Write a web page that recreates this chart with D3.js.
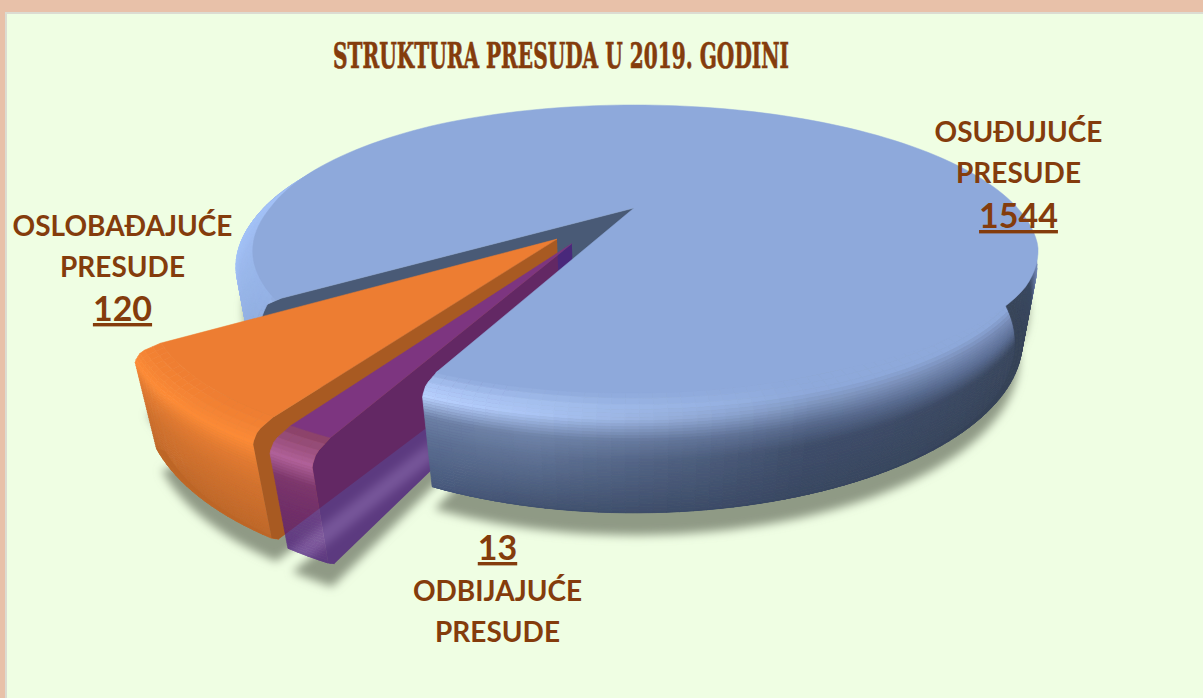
<!DOCTYPE html>
<html>
<head>
<meta charset="utf-8">
<script src="https://cdn.jsdelivr.net/npm/d3@7"></script>
<style>
body { margin: 0; background: #e8c1a9; }
text { font-family: Lato, sans-serif; font-weight: 700; fill: #843c0c; text-anchor: middle; }
</style>
</head>
<body>
<div id="chart"></div>
<script>
var categories = ["OSUĐUJUĆE PRESUDE", "ODBIJAJUĆE PRESUDE", "OSLOBAĐAJUĆE PRESUDE"];
var values = [1544, 13, 120];
var titleText = "STRUKTURA PRESUDA U 2019. GODINI";

var width = 1203, height = 698;
var rad = Math.PI / 180;

// camera fitted to the picture: pie plane has unit radius, z runs down the wall
var cx = 634, cy = 208, scaleX = 379, scaleY = 136, scaleZ = 87, tilt = 0.32, zPersp = 0.04;
var rightStretch = 1.012;
var explode = 0.285;
var frontGap = 2.6;       // the thin slice is drawn a bit wider than its share, like the original
var thinDirShift = 6;

function project(x, y, z) {
    var d = 1 - tilt * y + zPersp * z;
    return [cx + scaleX * (x > 0 ? x * rightStretch : x) / d, cy + (scaleY * y + scaleZ * z) / d];
}

var svg = d3.select("#chart").append("svg")
    .attr("width", width)
    .attr("height", height)
    .style("display", "block");

var defs = svg.append("defs");
defs.append("filter").attr("id", "blur")
    .attr("x", "-10%").attr("y", "-10%").attr("width", "120%").attr("height", "120%")
    .append("feGaussianBlur").attr("stdDeviation", 5);
defs.append("filter").attr("id", "soft")
    .attr("x", "-5%").attr("y", "-5%").attr("width", "110%").attr("height", "110%")
    .append("feGaussianBlur").attr("stdDeviation", 0.6);

svg.append("rect").attr("x", 5).attr("y", 12).attr("width", width).attr("height", height)
    .attr("fill", "#dcdcd2");
svg.append("rect").attr("x", 7).attr("y", 14).attr("width", width).attr("height", height)
    .attr("fill", "#effee3");

var pie = d3.pie().sort(null)
    .startAngle(234.5 * rad)
    .endAngle((234.5 + 360) * rad);

// theta: 0 = right, 90 = towards the viewer, in degrees
var slices = pie(values).map(function(d, i) {
    return { a0: d.startAngle / rad - 90, a1: d.endAngle / rad - 90, k: i == 0 ? 1 : 0.985 };
});
slices[0].a1 -= frontGap;
slices[1].a0 -= frontGap;
slices.forEach(function(s, i) {
    var mid = ((s.a0 + s.a1) / 2 + (i == 1 ? thinDirShift : 0)) * rad;
    s.ox = i == 0 ? 0 : explode * Math.cos(mid);
    s.oy = i == 0 ? 0 : explode * Math.sin(mid);
});

var line = d3.line();

function point(s, theta, r, z) {
    return project(s.ox + s.k * r * Math.cos(theta * rad), s.oy + s.k * r * Math.sin(theta * rad), z);
}

function arcPoints(s, a0, a1, rFn, z) {
    var n = Math.max(2, Math.ceil(Math.abs(a1 - a0) / 2));
    return d3.range(n + 1).map(function(i) {
        var a = a0 + (a1 - a0) * i / n;
        return point(s, a, rFn(a), z);
    });
}

// wall profile, t goes from top face edge (0) to the foot (1)
var rOf = d3.scaleLinear().domain([0, 0.06, 0.14, 0.95, 1]).range([0.945, 0.985, 1, 1, 0.985]);
var zOf = d3.scaleLinear().domain([0, 0.06, 0.14, 1]).range([0, 0.03, 0.1, 1]);
var rows = d3.range(0, 1.001, 1 / 40);
var angleStep = 1.5;

function wallMesh(g, s, a0, a1, colorAt) {
    var n = Math.max(2, Math.ceil(Math.abs(a1 - a0) / angleStep));
    var thetas = d3.range(n + 1).map(function(i) { return a0 + (a1 - a0) * i / n; });
    for (var j = 0; j < rows.length - 1; j++) {
        for (var i = 0; i < n; i++) {
            var t0 = rows[j], t1 = rows[j + 1], c = colorAt(thetas[i], (t0 + t1) / 2);
            g.append("path")
                .attr("d", line([
                    point(s, thetas[i], rOf(t0), zOf(t0)),
                    point(s, thetas[i + 1], rOf(t0), zOf(t0)),
                    point(s, thetas[i + 1], rOf(t1), zOf(t1)),
                    point(s, thetas[i], rOf(t1), zOf(t1))
                ]) + "Z")
                .attr("fill", c)
                .attr("stroke", c)
                .attr("stroke-width", 0.7);
        }
    }
}

// flat cut face, its outer side follows the wall profile
function cutWall(g, s, theta, color) {
    var pts = [point(s, theta, 0, 0)]
        .concat(rows.map(function(t) { return point(s, theta, rOf(t), zOf(t)); }))
        .concat([point(s, theta, 0, 1)]);
    g.append("path").attr("d", line(pts) + "Z").attr("fill", color);
}

function topFace(g, s, color, rFn) {
    var pts = [point(s, 0, 0, 0)].concat(arcPoints(s, s.a0, s.a1, rFn, 0));
    g.append("path").attr("d", line(pts) + "Z")
        .attr("fill", color)
        .attr("stroke", color)
        .attr("stroke-width", 0.5);
}

function shadeBy(stops, colorsByRow) {
    // one colour ramp along theta per row of the wall, blended along t
    var tStops = [0, 0.06, 0.14, 0.32, 0.5, 1];
    var ramps = colorsByRow.map(function(c) {
        return d3.scaleLinear().domain(stops).range(c).interpolate(d3.interpolateRgb).clamp(true);
    });
    return function(theta, t) {
        var k = d3.bisectRight(tStops, t) - 1;
        k = Math.min(k, tStops.length - 2);
        var f = (t - tStops[k]) / (tStops[k + 1] - tStops[k]);
        return d3.interpolateRgb(ramps[k](theta), ramps[k + 1](theta))(f);
    };
}

var blueShade = shadeBy([-30, 0, 40, 70, 100, 114, 150, 215], [
    ["#8ea9db", "#8ea9db", "#8ea9db", "#8ea9db", "#8ea9db", "#8ea9db", "#8ea9db", "#8ea9db"],
    ["#8ea9db", "#8ea9db", "#8ea9db", "#8ea9db", "#a4bfee", "#acc6f6", "#9dbaee", "#98b6ea"],
    ["#8ea9db", "#8198c6", "#7488b4", "#7e95bf", "#aac4f4", "#b9d2ff", "#a3c2f7", "#a3c2f7"],
    ["#5b6e96", "#5b6e96", "#5b6e96", "#56688c", "#6f83a9", "#6c80a5", "#9ab6ea", "#a3c2f7"],
    ["#3a475e", "#3a475e", "#3a4760", "#3e4d6a", "#5f7296", "#5e7195", "#95b2e4", "#a3c2f7"],
    ["#384559", "#384559", "#364358", "#384660", "#3f4f6d", "#45567a", "#8aa6d8", "#a3c2f7"]
]);

var orangeShade = shadeBy([119, 145], [
    ["#ed7d31", "#ed7d31"],
    ["#f58434", "#f58434"],
    ["#fc8a36", "#fc8a36"],
    ["#d2722c", "#e27a30"],
    ["#c2682a", "#d4722e"],
    ["#ac5c23", "#bc6628"]
]);

var purpleShade = shadeBy([113, 119], [
    ["#7d3680", "#7d3680"],
    ["#9a4fa6", "#9a4fa6"],
    ["#b464c8", "#b464c8"],
    ["#6c2a8a", "#6c2a8a"],
    ["#5f2187", "#5f2187"],
    ["#4a167e", "#4a167e"]
]);

// rim of the top face: no bevel visible at the back of the pie
var blueTopR = d3.scaleLinear()
    .domain([-30, 15, 30, 45, 65, 180, 230, 330])
    .range([1, 1, 0.99, 0.97, 0.945, 0.96, 1, 1])
    .clamp(true);
function blueR(a) { return blueTopR(a > 330 ? a - 360 : a); }
function flatR() { return 0.945; }

// shadow on the floor, the upper copy keeps it solid behind the see-through slice
var shadow = svg.append("g").attr("filter", "url(#blur)").attr("fill", "#8f9a85");
slices.forEach(function(s) {
    [0.6, 1.17].forEach(function(z) {
        var pts = [point(s, 0, 0, z)].concat(arcPoints(s, s.a0, s.a1, function() { return 1; }, z));
        shadow.append("path").attr("d", line(pts) + "Z");
    });
});

var blue = slices[0], purple = slices[1], orange = slices[2];

// blue parts behind the exploded slices
var behind = svg.append("g").attr("filter", "url(#soft)");
cutWall(behind, blue, blue.a0, "#4a5a76");
wallMesh(behind, blue, blue.a0, 240, blueShade);

// orange slice
var og = svg.append("g").attr("filter", "url(#soft)");
wallMesh(og, orange, orange.a0, orange.a1, orangeShade);
cutWall(og, orange, orange.a0, "#a85a22");
topFace(og, orange, "#ed7d31", flatR);

// purple slice, see-through like the original
var pg = svg.append("g").attr("opacity", 0.72).attr("filter", "url(#soft)");
cutWall(pg, purple, purple.a0, "#4a167e");
wallMesh(pg, purple, purple.a0, purple.a1, purpleShade);
topFace(svg.append("g").attr("filter", "url(#soft)"), purple, "#7d3680", flatR);

// blue front
var front = svg.append("g").attr("filter", "url(#soft)");
wallMesh(front, blue, -30, blue.a1 - 360, blueShade);
topFace(front, blue, "#8ea9db", blueR);

// title
svg.append("text")
    .attr("x", 561)
    .attr("y", 68)
    .attr("textLength", 456)
    .attr("lengthAdjust", "spacingAndGlyphs")
    .style("font-family", "'DejaVu Serif', serif")
    .style("font-size", "36px")
    .style("stroke", "#843c0c")
    .style("stroke-width", "0.7px")
    .text(titleText);

function label(x, lines) {
    lines.forEach(function(l) {
        svg.append("text")
            .attr("x", x)
            .attr("y", l.y)
            .style("font-size", (l.big ? 34 : 28) + "px")
            .style("text-decoration", l.big ? "underline" : "none")
            .text(l.text);
    });
}

function words(i) { return categories[i].split(" "); }

label(1018.5, [
    { y: 142, text: words(0)[0] },
    { y: 183, text: words(0)[1] },
    { y: 228, text: values[0], big: true }
]);
label(122.5, [
    { y: 236, text: words(2)[0] },
    { y: 277, text: words(2)[1] },
    { y: 321, text: values[2], big: true }
]);
label(497.5, [
    { y: 560, text: values[1], big: true },
    { y: 601, text: words(1)[0] },
    { y: 642, text: words(1)[1] }
]);
</script>
</body>
</html>
